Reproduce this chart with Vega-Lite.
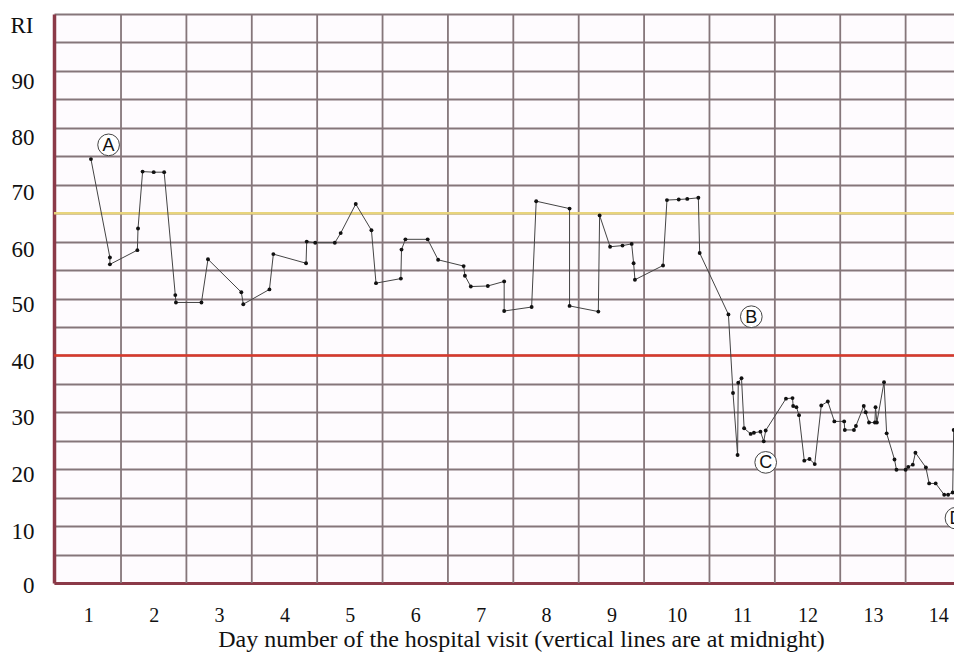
{
  "$schema": "https://vega.github.io/schema/vega-lite/v6.json",
  "width": 900,
  "height": 569,
  "autosize": "none",
  "padding": {"left": 54, "top": 14, "right": 0, "bottom": 70},
  "background": "#ffffff",
  "config": {
    "view": {"fill": "#fefbfe", "stroke": null},
    "axis": {"labelFont": "Liberation Serif", "titleFont": "Liberation Serif", "labelColor": "#111111", "titleColor": "#111111", "titleFontWeight": "normal"}
  },
  "datasets": {
    "ri": [
      {"i": 1, "day": 1.04, "ri": 74.5},
      {"i": 2, "day": 1.33, "ri": 57.2},
      {"i": 3, "day": 1.33, "ri": 56.0},
      {"i": 4, "day": 1.75, "ri": 58.5},
      {"i": 5, "day": 1.76, "ri": 62.3},
      {"i": 6, "day": 1.83, "ri": 72.3},
      {"i": 7, "day": 2.0, "ri": 72.2},
      {"i": 8, "day": 2.16, "ri": 72.2},
      {"i": 9, "day": 2.33, "ri": 50.6},
      {"i": 10, "day": 2.34, "ri": 49.3},
      {"i": 11, "day": 2.73, "ri": 49.3},
      {"i": 12, "day": 2.83, "ri": 56.9},
      {"i": 13, "day": 3.34, "ri": 51.1},
      {"i": 14, "day": 3.37, "ri": 49.0},
      {"i": 15, "day": 3.77, "ri": 51.6},
      {"i": 16, "day": 3.83, "ri": 57.8},
      {"i": 17, "day": 4.33, "ri": 56.2},
      {"i": 18, "day": 4.34, "ri": 60.0},
      {"i": 19, "day": 4.47, "ri": 59.8},
      {"i": 20, "day": 4.77, "ri": 59.8},
      {"i": 21, "day": 4.86, "ri": 61.5},
      {"i": 22, "day": 5.09, "ri": 66.6},
      {"i": 23, "day": 5.33, "ri": 62.0},
      {"i": 24, "day": 5.4, "ri": 52.7},
      {"i": 25, "day": 5.78, "ri": 53.5},
      {"i": 26, "day": 5.79, "ri": 58.6},
      {"i": 27, "day": 5.85, "ri": 60.4},
      {"i": 28, "day": 6.19, "ri": 60.4},
      {"i": 29, "day": 6.35, "ri": 56.8},
      {"i": 30, "day": 6.74, "ri": 55.7},
      {"i": 31, "day": 6.76, "ri": 54.0},
      {"i": 32, "day": 6.85, "ri": 52.1},
      {"i": 33, "day": 7.11, "ri": 52.2},
      {"i": 34, "day": 7.36, "ri": 53.0},
      {"i": 35, "day": 7.36, "ri": 47.8},
      {"i": 36, "day": 7.78, "ri": 48.5},
      {"i": 37, "day": 7.85, "ri": 67.1},
      {"i": 38, "day": 8.36, "ri": 65.8},
      {"i": 39, "day": 8.36, "ri": 48.7},
      {"i": 40, "day": 8.8, "ri": 47.7},
      {"i": 41, "day": 8.82, "ri": 64.6},
      {"i": 42, "day": 8.98, "ri": 59.1},
      {"i": 43, "day": 9.17, "ri": 59.3},
      {"i": 44, "day": 9.31, "ri": 59.6},
      {"i": 45, "day": 9.34, "ri": 56.2},
      {"i": 46, "day": 9.36, "ri": 53.3},
      {"i": 47, "day": 9.79, "ri": 55.8},
      {"i": 48, "day": 9.85, "ri": 67.3},
      {"i": 49, "day": 10.03, "ri": 67.4},
      {"i": 50, "day": 10.16, "ri": 67.5},
      {"i": 51, "day": 10.33, "ri": 67.7},
      {"i": 52, "day": 10.35, "ri": 58.0},
      {"i": 53, "day": 10.79, "ri": 47.2},
      {"i": 54, "day": 10.86, "ri": 33.4},
      {"i": 55, "day": 10.93, "ri": 22.5},
      {"i": 56, "day": 10.94, "ri": 35.2},
      {"i": 57, "day": 10.99, "ri": 36.0},
      {"i": 58, "day": 11.03, "ri": 27.2},
      {"i": 59, "day": 11.13, "ri": 26.2},
      {"i": 60, "day": 11.18, "ri": 26.4},
      {"i": 61, "day": 11.28, "ri": 26.6},
      {"i": 62, "day": 11.33, "ri": 24.9},
      {"i": 63, "day": 11.36, "ri": 26.8},
      {"i": 64, "day": 11.67, "ri": 32.4},
      {"i": 65, "day": 11.77, "ri": 32.5},
      {"i": 66, "day": 11.78, "ri": 31.1},
      {"i": 67, "day": 11.83, "ri": 30.9},
      {"i": 68, "day": 11.87, "ri": 29.5},
      {"i": 69, "day": 11.95, "ri": 21.5},
      {"i": 70, "day": 12.03, "ri": 21.8},
      {"i": 71, "day": 12.11, "ri": 20.9},
      {"i": 72, "day": 12.21, "ri": 31.2},
      {"i": 73, "day": 12.31, "ri": 31.9},
      {"i": 74, "day": 12.41, "ri": 28.4},
      {"i": 75, "day": 12.56, "ri": 28.4},
      {"i": 76, "day": 12.57, "ri": 26.9},
      {"i": 77, "day": 12.71, "ri": 26.9},
      {"i": 78, "day": 12.74, "ri": 27.6},
      {"i": 79, "day": 12.86, "ri": 31.1},
      {"i": 80, "day": 12.89, "ri": 30.0},
      {"i": 81, "day": 12.94, "ri": 28.2},
      {"i": 82, "day": 13.03, "ri": 28.2},
      {"i": 83, "day": 13.04, "ri": 30.9},
      {"i": 84, "day": 13.06, "ri": 28.2},
      {"i": 85, "day": 13.17, "ri": 35.3},
      {"i": 86, "day": 13.21, "ri": 26.3},
      {"i": 87, "day": 13.33, "ri": 21.7},
      {"i": 88, "day": 13.36, "ri": 19.9},
      {"i": 89, "day": 13.5, "ri": 19.9},
      {"i": 90, "day": 13.54, "ri": 20.4},
      {"i": 91, "day": 13.61, "ri": 20.8},
      {"i": 92, "day": 13.65, "ri": 22.9},
      {"i": 93, "day": 13.81, "ri": 20.3},
      {"i": 94, "day": 13.86, "ri": 17.5},
      {"i": 95, "day": 13.96, "ri": 17.5},
      {"i": 96, "day": 14.09, "ri": 15.5},
      {"i": 97, "day": 14.15, "ri": 15.5},
      {"i": 98, "day": 14.22, "ri": 15.9},
      {"i": 99, "day": 14.235, "ri": 26.9}
    ],
    "midnight": [
      {"day": 1.5}, {"day": 2.5}, {"day": 3.5}, {"day": 4.5}, {"day": 5.5}, {"day": 6.5}, {"day": 7.5},
      {"day": 8.5}, {"day": 9.5}, {"day": 10.5}, {"day": 11.5}, {"day": 12.5}, {"day": 13.5}
    ],
    "thresholds": [
      {"ri": 65, "name": "upper"},
      {"ri": 40, "name": "lower"}
    ],
    "labels": [
      {"day": 1.31, "ri": 77.0, "tag": "A"},
      {"day": 11.14, "ri": 46.8, "tag": "B"},
      {"day": 11.36, "ri": 21.2, "tag": "C"},
      {"day": 14.27, "ri": 11.4, "tag": "D"}
    ]
  },
  "encoding": {
    "x": {
      "field": "day", "type": "quantitative",
      "scale": {"domain": [0.475, 14.24], "nice": false, "zero": false},
      "axis": {
        "values": [1, 2, 3, 4, 5, 6, 7, 8, 9, 10, 11, 12, 13, 14],
        "grid": false, "ticks": false,
        "domain": true, "domainColor": "#8b3a48", "domainWidth": 3,
        "labelFontSize": 20, "labelPadding": 22, "labelFlush": false,
        "title": "Day number of the hospital visit (vertical lines are at midnight)",
        "titleFontSize": 24, "titlePadding": 2, "titleX": 467, "titleAlign": "center"
      }
    },
    "y": {
      "field": "ri", "type": "quantitative",
      "scale": {"domain": [0, 100], "nice": false},
      "axis": {
        "values": [0, 5, 10, 15, 20, 25, 30, 35, 40, 45, 50, 55, 60, 65, 70, 75, 80, 85, 90, 95, 100],
        "labelExpr": "datum.value % 10 == 0 && datum.value < 100 ? datum.label : ''",
        "grid": true, "gridColor": "#85767a", "gridWidth": 1.8, "gridOpacity": 1,
        "ticks": true, "tickSize": 0, "tickColor": "#85767a",
        "domain": true, "domainColor": "#8b3a48", "domainWidth": 3.5,
        "labelFontSize": 23, "labelPadding": 20, "labelAlign": "right",
        "labelOffset": {"condition": [
          {"test": "datum.value >= 90", "value": 11},
          {"test": "datum.value >= 80", "value": 10},
          {"test": "datum.value >= 60", "value": 8},
          {"test": "datum.value >= 40", "value": 6},
          {"test": "datum.value >= 10", "value": 5}
        ], "value": 2},
        "title": "RI", "titleAngle": 0, "titleFontSize": 23,
        "titleAlign": "left", "titleBaseline": "middle", "titleX": -44, "titleY": 11
      }
    }
  },
  "layer": [
    {
      "data": {"name": "midnight"},
      "mark": {"type": "rule", "color": "#85767a", "strokeWidth": 1.8},
      "encoding": {"y": null}
    },
    {
      "data": {"name": "thresholds"},
      "mark": {"type": "rule", "strokeWidth": 2.5},
      "encoding": {
        "x": null,
        "color": {
          "field": "name", "type": "nominal",
          "scale": {"domain": ["upper", "lower"], "range": ["#e8d47c", "#d8392b"]},
          "legend": null
        }
      }
    },
    {
      "data": {"name": "ri"},
      "mark": {"type": "line", "color": "#444444", "strokeWidth": 1, "point": {"filled": true, "color": "#111111", "size": 15}},
      "encoding": {"order": {"field": "i", "type": "quantitative"}}
    },
    {
      "data": {"name": "labels"},
      "mark": {"type": "point", "shape": "circle", "size": 470, "filled": true, "fill": "#ffffff", "stroke": "#444444", "strokeWidth": 1, "opacity": 1}
    },
    {
      "data": {"name": "labels"},
      "mark": {"type": "text", "font": "Liberation Sans", "fontSize": 18, "color": "#111111", "baseline": "middle", "align": "center", "dy": 1},
      "encoding": {"text": {"field": "tag", "type": "nominal"}}
    }
  ]
}
